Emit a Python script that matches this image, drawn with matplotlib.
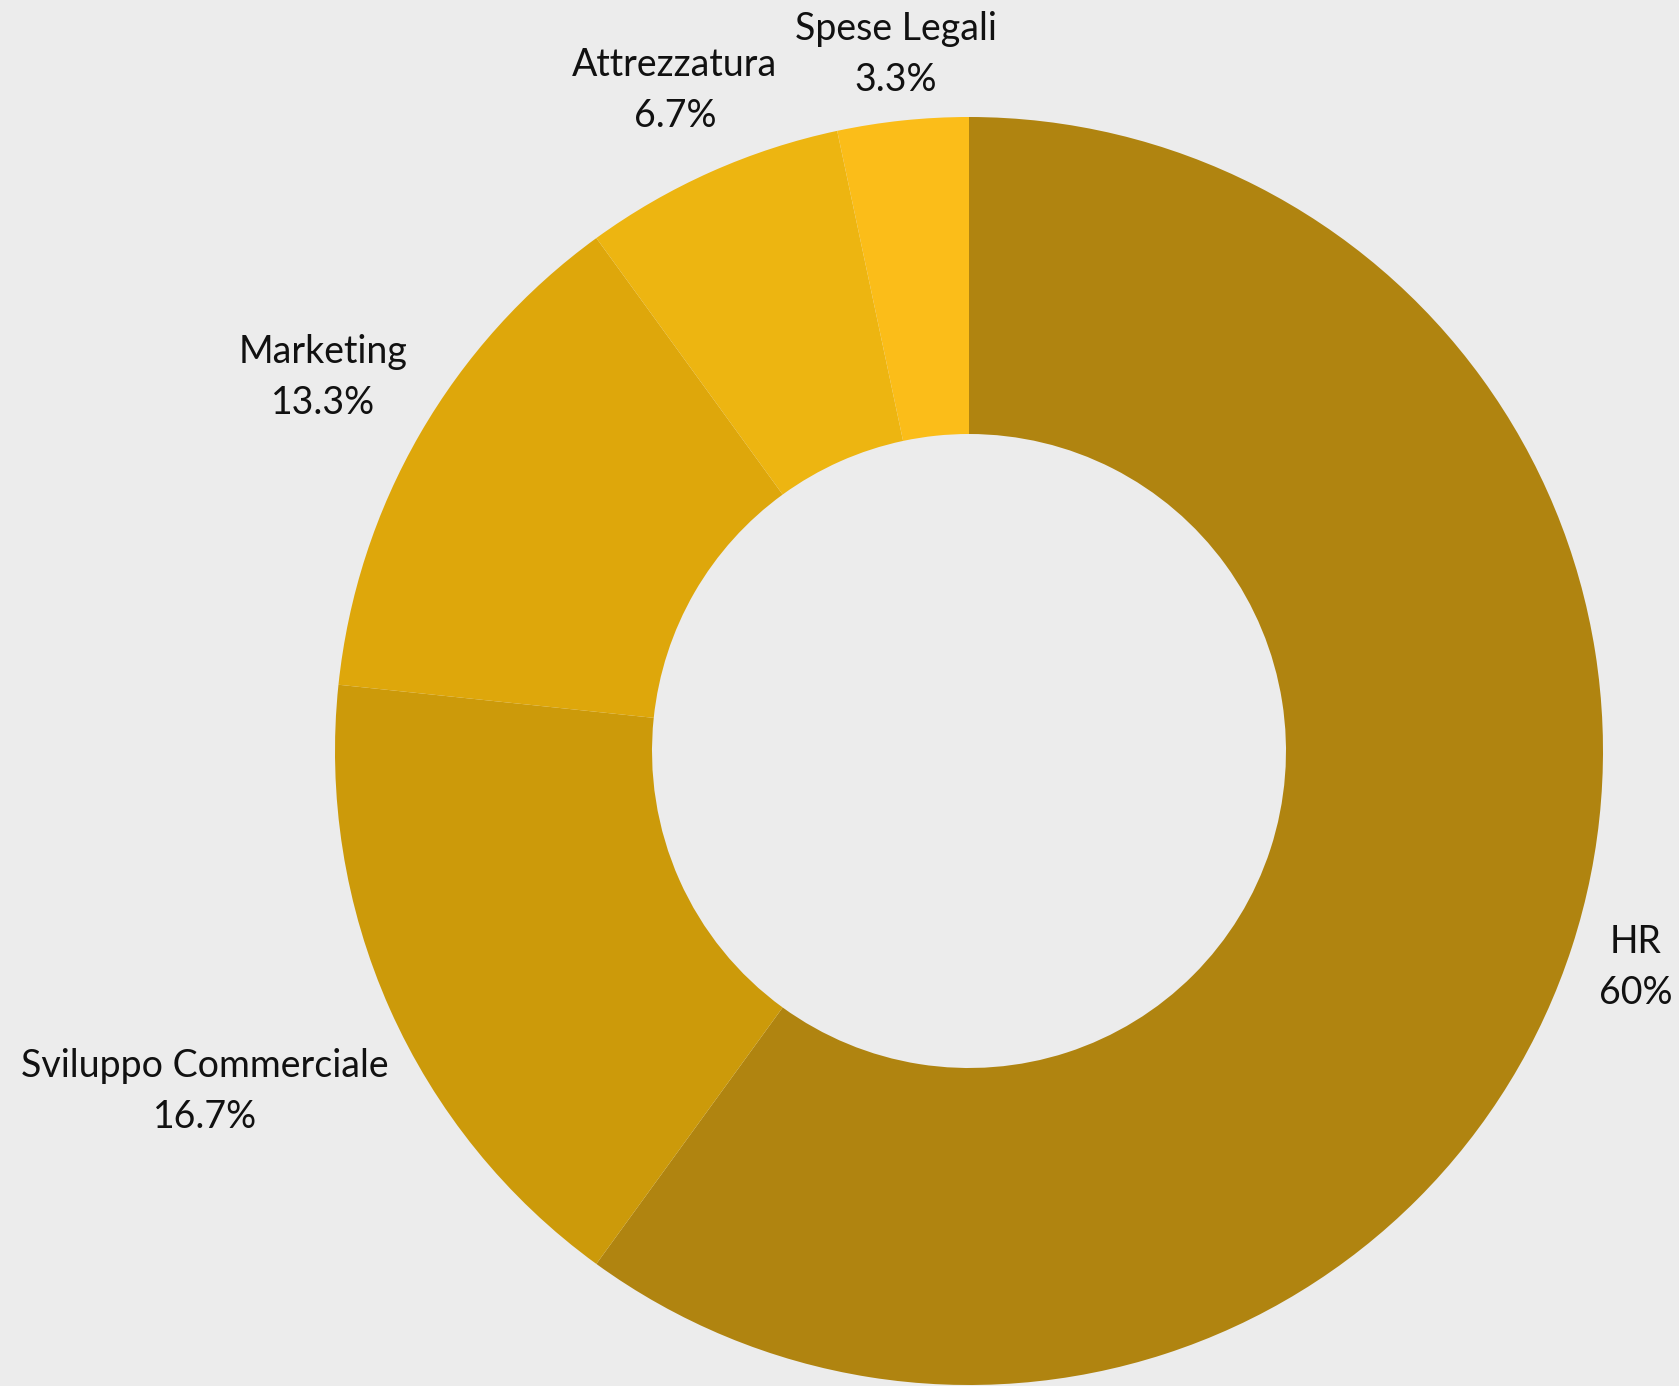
import numpy as np
import matplotlib
matplotlib.use("Agg")
import matplotlib.pyplot as plt

categories = ["HR", "Sviluppo Commerciale", "Marketing", "Attrezzatura", "Spese Legali"]
values = [18, 5, 4, 2, 1]
colors = ["#b08410", "#cc9a0a", "#dea70b", "#edb511", "#fbbd19"]
label_dist = [1.105, 1.319, 1.177, 1.141, 1.105]

plt.rcParams['font.family'] = ['Lato', 'DejaVu Sans']
bg = "#ececec"

fig = plt.figure(figsize=(16.79, 13.86), dpi=100, facecolor=bg)
ax = fig.add_axes([0, 0, 1, 1])
ax.set_facecolor(bg)

cx, cy, R = 969, 635, 634
wedges, _ = ax.pie(values, colors=colors, startangle=90, counterclock=False,
                   center=(cx, cy), radius=R, frame=True,
                   wedgeprops=dict(width=R * 0.5, linewidth=0))
ax.set_xlim(0, 1679)
ax.set_ylim(0, 1386)
ax.set_aspect('equal')
ax.axis('off')

total = sum(values)
for w, cat, v, d in zip(wedges, categories, values, label_dist):
    ang = np.deg2rad((w.theta1 + w.theta2) / 2)
    pct = 100 * v / total
    s = f"{pct:.1f}".rstrip('0').rstrip('.')
    x = cx + d * R * np.cos(ang)
    y = cy + d * R * np.sin(ang)
    ax.text(x, y, f"{cat}\n{s}%", ha='center', va='center', multialignment='center',
            fontsize=27, color='#111111', linespacing=1.52)

fig.savefig("out.png", dpi=100, facecolor=bg)
